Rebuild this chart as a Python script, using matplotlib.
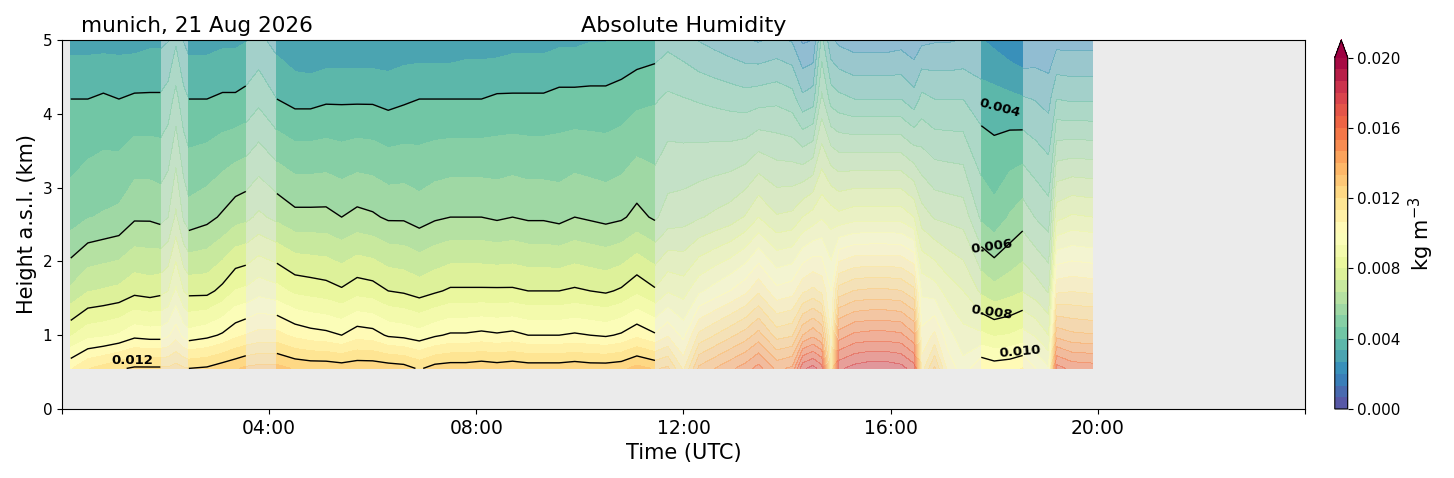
import numpy as np
import matplotlib
matplotlib.use("Agg")
import matplotlib.pyplot as plt

# time of each profile (hours UTC)
hour_utc = [0.17, 0.5, 0.8, 1.1, 1.4, 1.7, 1.9,
            2.05, 2.2, 2.35,
            2.45, 2.8, 3.1, 3.35, 3.55,
            3.8,
            4.15, 4.5, 4.8, 5.1, 5.4, 5.7, 6.0, 6.3, 6.6, 6.9, 7.2, 7.5, 7.8,
            8.1, 8.4, 8.7, 9.0, 9.3, 9.6, 9.9, 10.2, 10.5, 10.8, 11.1, 11.45,
            11.7, 12.0, 12.3, 12.6, 12.9, 13.2, 13.45, 13.8, 14.1, 14.3, 14.5,
            14.67, 14.85, 15.0, 15.3, 15.6, 15.9, 16.2, 16.45, 16.6, 16.85,
            17.1, 17.4,
            17.75, 18.0, 18.3, 18.55,
            18.8, 19.05, 19.2, 19.5, 19.9]

# heights of the retrieval levels (km a.s.l.)
height_km = [0.55, 1.0, 1.6, 2.6, 4.2, 5.0]

# absolute humidity (kg m-3) at each height
q_055 = [0.0106, 0.0113, 0.0116, 0.0119, 0.0121, 0.0121, 0.0121,
         0.0121, 0.0123, 0.0121,
         0.0120, 0.0121, 0.0124, 0.0126, 0.0128,
         0.0129,
         0.0129, 0.0126, 0.0125, 0.0125, 0.0124, 0.0125, 0.0125, 0.0124, 0.0123,
         0.0119, 0.0123, 0.0124, 0.0124, 0.0125, 0.0124, 0.0125, 0.0124, 0.0124,
         0.0124, 0.0125, 0.0124, 0.0124, 0.0125, 0.0129, 0.0126,
         0.0128, 0.0112, 0.0135, 0.0140, 0.0145, 0.0150, 0.0156, 0.0145, 0.0148,
         0.0172, 0.0176, 0.0170, 0.0112, 0.0172, 0.0176, 0.0178, 0.0178, 0.0176,
         0.0170, 0.0110, 0.0128, 0.0105, 0.0096,
         0.0106, 0.0104, 0.0105, 0.0107,
         0.0100, 0.0094, 0.0163, 0.0158, 0.0157]
q_100 = [0.0086, 0.0091, 0.0092, 0.0094, 0.0098, 0.0097, 0.0097,
         0.0099, 0.0104, 0.0098,
         0.0096, 0.0098, 0.0101, 0.0105, 0.0107,
         0.0109,
         0.0109, 0.0105, 0.0103, 0.0102, 0.0100, 0.0104, 0.0103, 0.0099, 0.0098,
         0.0096, 0.0099, 0.0101, 0.0101, 0.0102, 0.0101, 0.0102, 0.0100, 0.0100,
         0.0100, 0.0101, 0.0100, 0.0099, 0.0101, 0.0105, 0.0101,
         0.0106, 0.0098, 0.0115, 0.0120, 0.0125, 0.0130, 0.0136, 0.0124, 0.0126,
         0.0140, 0.0145, 0.0140, 0.0106, 0.0150, 0.0155, 0.0156, 0.0156, 0.0155,
         0.0148, 0.0102, 0.0108, 0.0096, 0.0089,
         0.0088, 0.0086, 0.0087, 0.0089,
         0.0086, 0.0080, 0.0138, 0.0135, 0.0134]
q_160 = [0.0068, 0.0073, 0.0074, 0.0075, 0.0078, 0.0077, 0.0078,
         0.0080, 0.0088, 0.0080,
         0.0078, 0.0078, 0.0082, 0.0087, 0.0088,
         0.0091,
         0.0089, 0.0085, 0.0084, 0.0083, 0.0081, 0.0084, 0.0083, 0.0080, 0.0079,
         0.0077, 0.0079, 0.0081, 0.0081, 0.0081, 0.0081, 0.0081, 0.0080, 0.0080,
         0.0080, 0.0081, 0.0080, 0.0079, 0.0081, 0.0085, 0.0081,
         0.0086, 0.0084, 0.0092, 0.0096, 0.0100, 0.0105, 0.0112, 0.0102, 0.0104,
         0.0112, 0.0115, 0.0112, 0.0100, 0.0123, 0.0127, 0.0128, 0.0128, 0.0127,
         0.0122, 0.0092, 0.0090, 0.0084, 0.0080,
         0.0072, 0.0069, 0.0071, 0.0073,
         0.0070, 0.0066, 0.0112, 0.0113, 0.0112]
q_260 = [0.0050, 0.0053, 0.0054, 0.0055, 0.0059, 0.0059, 0.0058,
         0.0060, 0.0068, 0.0059,
         0.0056, 0.0058, 0.0061, 0.0064, 0.0065,
         0.0068,
         0.0065, 0.0062, 0.0062, 0.0062, 0.0060, 0.0062, 0.0061, 0.0059, 0.0059,
         0.0057, 0.0059, 0.0060, 0.0060, 0.0060, 0.0059, 0.0060, 0.0059, 0.0059,
         0.0058, 0.0060, 0.0059, 0.0058, 0.0059, 0.0062, 0.0059,
         0.0063, 0.0064, 0.0066, 0.0068, 0.0070, 0.0074, 0.0080, 0.0074, 0.0075,
         0.0080, 0.0083, 0.0086, 0.0084, 0.0082, 0.0084, 0.0084, 0.0084, 0.0084,
         0.0080, 0.0070, 0.0066, 0.0065, 0.0064,
         0.0052, 0.0049, 0.0054, 0.0057,
         0.0053, 0.0050, 0.0078, 0.0081, 0.0080]
q_420 = [0.0040, 0.0040, 0.0041, 0.0040, 0.0041, 0.0041, 0.0041,
         0.0043, 0.0049, 0.0042,
         0.0040, 0.0040, 0.0041, 0.0041, 0.0042,
         0.0045,
         0.0040, 0.0038, 0.0038, 0.0039, 0.0039, 0.0039, 0.0039, 0.0038, 0.0039,
         0.0040, 0.0040, 0.0040, 0.0040, 0.0040, 0.0041, 0.0041, 0.0041, 0.0041,
         0.0042, 0.0042, 0.0042, 0.0042, 0.0043, 0.0045, 0.0046,
         0.0048, 0.0047, 0.0046, 0.0045, 0.0044, 0.0043, 0.0044, 0.0045, 0.0043,
         0.0035, 0.0037, 0.0055, 0.0044, 0.0042, 0.0040, 0.0040, 0.0040, 0.0040,
         0.0036, 0.0042, 0.0040, 0.0040, 0.0040,
         0.00365, 0.0036, 0.0035, 0.0034,
         0.0033, 0.0031, 0.0040, 0.0039, 0.0039]
q_500 = [0.0031, 0.0031, 0.0031, 0.0031, 0.0031, 0.0032, 0.0032,
         0.0033, 0.0039, 0.0033,
         0.0031, 0.0031, 0.0032, 0.0032, 0.0033,
         0.0035,
         0.0031, 0.0028, 0.0027, 0.0028, 0.0028, 0.0028, 0.0028, 0.0028, 0.0029,
         0.0029, 0.0029, 0.0029, 0.0030, 0.0030, 0.0030, 0.0031, 0.0031, 0.0031,
         0.0032, 0.0032, 0.0033, 0.0033, 0.0034, 0.0035, 0.0036,
         0.0038, 0.0036, 0.0033, 0.0031, 0.0029, 0.0027, 0.0026, 0.0028, 0.0026,
         0.0019, 0.0020, 0.0042, 0.0028, 0.0025, 0.0023, 0.0023, 0.0023, 0.0024,
         0.0022, 0.0025, 0.0026, 0.0026, 0.0027,
         0.0027, 0.0025, 0.0022, 0.0020,
         0.0021, 0.0021, 0.0024, 0.0024, 0.0024]

# periods with good quality data (the rest is shown faded)
good_periods = [(0.17, 1.9), (2.45, 3.55), (4.15, 11.45), (17.75, 18.55)]

# where the contour labels sit (hour, km) and their angle
label_pos = [(1.35, 0.66), (18.1, 4.08), (17.95, 2.2), (17.95, 1.31), (18.5, 0.78)]
label_rot = [0, -15, 8, -8, 5]

t = np.array(hour_utc)
z = np.array(height_km)
q = np.array([q_055, q_100, q_160, q_260, q_420, q_500])

levels = np.linspace(0, 0.02, 31)
line_levels = [0.004, 0.006, 0.008, 0.010, 0.012]

fig = plt.figure(figsize=(14.54, 4.78), dpi=100)
ax = fig.add_axes([0.0426, 0.1444, 0.8549, 0.7719])
cax = fig.add_axes([0.918, 0.1444, 0.0089, 0.772])
ax.set_facecolor("#ebebeb")

# all data, faded
ax.contourf(t, z, q, levels=levels, cmap="Spectral_r", extend="max", alpha=0.5)

lines = []
for start, end in good_periods:
    sel = (t >= start - 1e-6) & (t <= end + 1e-6)
    cf = ax.contourf(t[sel], z, q[:, sel], levels=levels, cmap="Spectral_r", extend="max")
    cl = ax.contour(t[sel], z, q[:, sel], levels=line_levels, colors="k", linewidths=1)
    lines.append(cl)

labs1 = ax.clabel(lines[0], manual=[(1.35, 0.57)],
                  inline=False, fontsize=9.5, fmt="%.3f")
labs4 = ax.clabel(lines[3],
                  manual=[(18.15, 3.9), (18.15, 2.05), (18.15, 1.25), (18.4, 0.68)],
                  inline=False, fontsize=9.5, fmt="%.3f")
for lab, pos, rot in zip(list(labs1) + list(labs4), label_pos, label_rot):
    lab.set_fontweight("bold")
    lab.set_position(pos)
    lab.set_rotation(rot)

ax.set_xlim(0, 24)
ax.set_ylim(0, 5)
ax.set_xticks(range(0, 25, 4))
ax.set_xticklabels(["", "04:00", "08:00", "12:00", "16:00", "20:00", ""], fontsize=13.5)
ax.set_yticks(range(0, 6))
ax.tick_params(axis="y", labelsize=11)
ax.set_xlabel("Time (UTC)", fontsize=15)
ax.set_ylabel("Height a.s.l. (km)", fontsize=15)
ax.set_title("Absolute Humidity", fontsize=16)
ax.text(0.015, 1.01, "munich, 21 Aug 2026", transform=ax.transAxes,
        fontsize=15.5, va="bottom")

cb = fig.colorbar(cf, cax=cax, extend="max",
                  ticks=[0, 0.004, 0.008, 0.012, 0.016, 0.020], format="%.3f")
cb.ax.tick_params(labelsize=11)
cb.set_label("kg m$^{-3}$", fontsize=15)

fig.savefig("out.png", dpi=100)
